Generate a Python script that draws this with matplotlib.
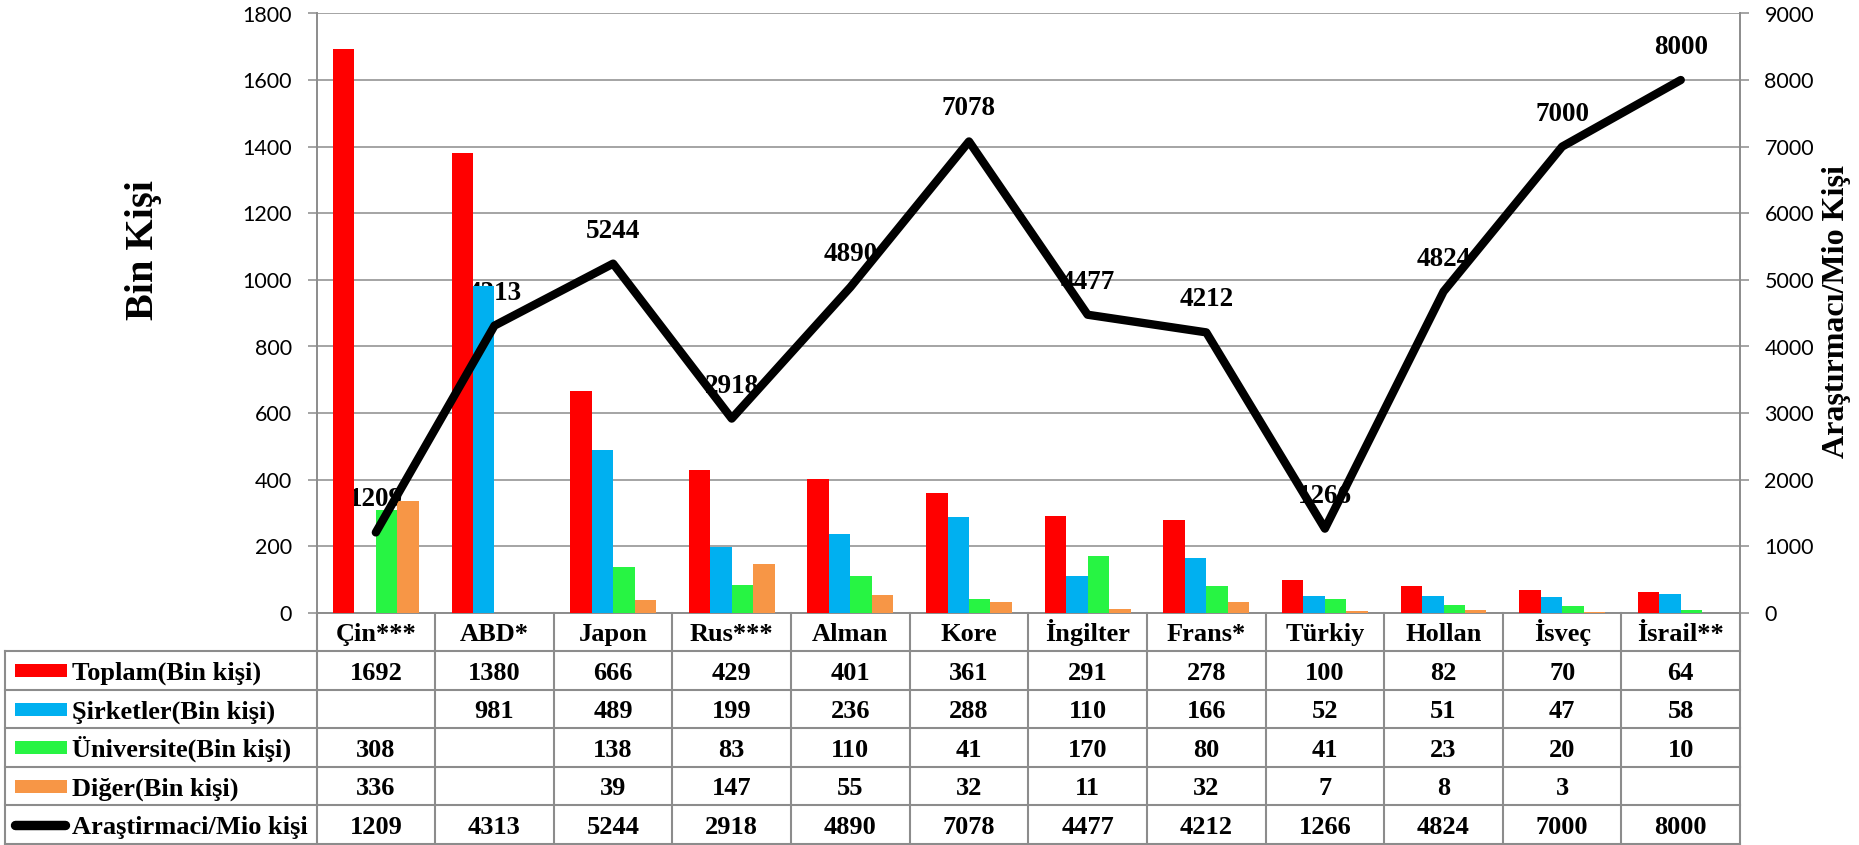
import numpy as np
import matplotlib
matplotlib.use("Agg")
import matplotlib.pyplot as plt
from matplotlib.lines import Line2D
from matplotlib.patches import Rectangle
from matplotlib.transforms import blended_transform_factory

# ---------------- data ----------------
countries = ["Çin***", "ABD*", "Japon", "Rus***", "Alman", "Kore",
             "İngilter", "Frans*", "Türkiy", "Hollan", "İsveç", "İsrail**"]
toplam = [1692, 1380, 666, 429, 401, 361, 291, 278, 100, 82, 70, 64]
sirketler = [np.nan, 981, 489, 199, 236, 288, 110, 166, 52, 51, 47, 58]
universite = [308, np.nan, 138, 83, 110, 41, 170, 80, 41, 23, 20, 10]
diger = [336, np.nan, 39, 147, 55, 32, 11, 32, 7, 8, 3, np.nan]
arastirmaci = [1209, 4313, 5244, 2918, 4890, 7078, 4477, 4212, 1266, 4824, 7000, 8000]

bar_names = ["Toplam(Bin kişi)", "Şirketler(Bin kişi)",
             "Üniversite(Bin kişi)", "Diğer(Bin kişi)"]
line_name = "Araştirmaci/Mio kişi"
left_ticks = list(range(0, 1801, 200))
right_ticks = list(range(0, 9001, 1000))
left_label = "Bin Kişi"
right_label = "Araştırmacı/Mio Kişi"

# ---------------- style ----------------
bar_colors = ["#FF0000", "#00B0F0", "#27F443", "#F79646"]
GRID = "#8C8C8C"
SERIF = "Liberation Serif"
plt.rcParams["font.family"] = ["Lato", "DejaVu Sans"]

W, H = 1859, 845
fig = plt.figure(figsize=(W / 100 + 0.001, H / 100 + 0.001), dpi=100)


def fx(px):
    return px / W


def fy(py):
    return 1 - py / H


ax_left, ax_right, ax_top, ax_bot = 316.5, 1740, 13.5, 613
ax = fig.add_axes([fx(ax_left), fy(ax_bot), fx(ax_right) - fx(ax_left), fy(ax_top) - fy(ax_bot)])
ax2 = ax.twinx()

n = len(countries)
x = np.arange(n)
ax.set_xlim(-0.5, n - 0.5)
ax.set_ylim(left_ticks[0], left_ticks[-1])
ax2.set_ylim(right_ticks[0], right_ticks[-1])
ax.set_yticks(left_ticks)
ax2.set_yticks(right_ticks)
ax.set_xticks([])
ax2.set_xticks([])

ax.set_axisbelow(True)
ax.yaxis.grid(True, color=GRID, lw=1.1)

# bars
bw = 0.181
series = [toplam, sirketler, universite, diger]
for k, (vals, col) in enumerate(zip(series, bar_colors)):
    ax.bar(x + (k - 1.5) * bw, vals, width=bw, color=col, zorder=3, linewidth=0)

# line on secondary axis
ax2.plot(x, arastirmaci, color="black", lw=6.0, solid_capstyle="round",
         solid_joinstyle="round", zorder=3)

# data labels (drawn beneath bars, positioned on secondary scale)
for xi, v in zip(x, arastirmaci):
    ax.annotate(str(v), xy=(xi, v), xycoords=ax2.transData, xytext=(0, 23.5),
                textcoords="offset points", ha="center", va="center",
                fontsize=19.5, fontweight="bold", family=SERIF, zorder=2.5)

# spines
for s in ["top"]:
    ax.spines[s].set_visible(False)
    ax2.spines[s].set_visible(False)
ax.spines["right"].set_visible(False)
ax2.spines["left"].set_visible(False)
ax2.spines["bottom"].set_visible(False)
for sp in [ax.spines["left"], ax.spines["bottom"], ax2.spines["right"]]:
    sp.set_color(GRID)
    sp.set_linewidth(1.4)

ax.tick_params(axis="y", direction="out", length=6.5, width=1.1, color=GRID,
               pad=11, labelsize=15.5)
ax2.tick_params(axis="y", direction="out", length=6.5, width=1.1, color=GRID,
                pad=11, labelsize=15.5)

# axis titles
fig.text(fx(143), fy(250), left_label, rotation=90, ha="center", va="center",
         fontsize=29, fontweight="bold", family=SERIF)
fig.text(fx(1836), fy(311), right_label, rotation=90, ha="center", va="center",
         fontsize=23, fontweight="bold", family=SERIF)

# ---------------- data table ----------------
bt = blended_transform_factory(ax.transData, fig.transFigure)
row_edges = [613, 651.5, 690, 728.5, 767, 805.5, 844]
tbl_left = 5
lw_tbl = 1.5

# vertical lines at category boundaries
for b in np.arange(n + 1) - 0.5:
    fig.add_artist(Line2D([b, b], [fy(row_edges[0]), fy(row_edges[-1])],
                          transform=bt, color=GRID, lw=lw_tbl))
# label column left border
fig.add_artist(Line2D([fx(tbl_left), fx(tbl_left)], [fy(row_edges[1]), fy(row_edges[-1])],
                      transform=fig.transFigure, color=GRID, lw=lw_tbl))
# horizontal lines
for ry in row_edges[1:]:
    fig.add_artist(Line2D([fx(tbl_left), fx(ax_right)], [fy(ry), fy(ry)],
                          transform=fig.transFigure, color=GRID, lw=lw_tbl))


def row_base(i):
    c = (row_edges[i] + row_edges[i + 1]) / 2
    return fy(c + 9)


txt_kw = dict(fontsize=19, fontweight="bold", family=SERIF, ha="center", va="baseline")
# header
for xi, c in zip(x, countries):
    fig.text(xi, row_base(0), c, transform=bt, **txt_kw)

# value rows
all_rows = series + [arastirmaci]
for r, vals in enumerate(all_rows):
    for xi, v in zip(x, vals):
        if v is None or (isinstance(v, float) and np.isnan(v)):
            continue
        fig.text(xi, row_base(r + 1), str(int(v)), transform=bt, **txt_kw)

# legend keys + row names
names = bar_names + [line_name]
for r, name in enumerate(names):
    c = (row_edges[r + 1] + row_edges[r + 2]) / 2
    if r < 4:
        fig.add_artist(Rectangle((fx(15), fy(c + 6.5)), fx(52), 13 / H,
                                 transform=fig.transFigure, color=bar_colors[r], lw=0))
    else:
        fig.add_artist(Line2D([fx(15), fx(65)], [fy(c), fy(c)], transform=fig.transFigure,
                              color="black", lw=6.8, solid_capstyle="round"))
    fig.text(fx(72), fy(c + 9), name, ha="left", va="baseline", fontsize=19,
             fontweight="bold", family=SERIF)

fig.savefig("out.png", dpi=100)
